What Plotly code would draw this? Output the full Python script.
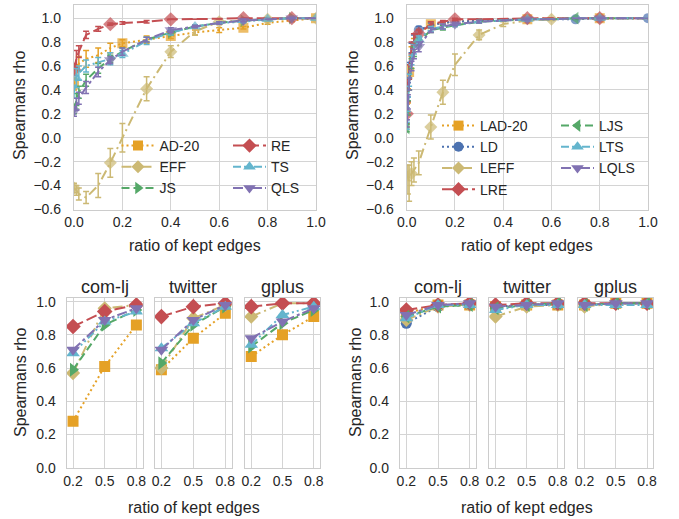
import plotly.graph_objects as go

W, H = 679, 519

# ---------------- data: top-left (absolute variants) ----------------
x_tl = [0.0, 0.01, 0.02, 0.05, 0.1, 0.15, 0.2, 0.3, 0.4, 0.5, 0.6, 0.7, 0.8, 0.9, 1.0]
ad20 = [0.45, 0.55, 0.62, 0.66, 0.69, 0.75, 0.79, 0.82, 0.85, 0.88, 0.90, 0.92, 0.96, 0.98, 1.0]
ad20_err = [0.05, 0.06, 0.06, 0.07, 0.06, 0.04, 0.03, 0.03, 0.02, 0.02, 0.02, 0.01, 0.01, 0.01, 0.0]
eff = [-0.42, -0.44, -0.47, -0.50, -0.40, -0.21, 0.0, 0.41, 0.72, 0.89, 0.97, 0.98, 0.99, 1.0, 1.0]
eff_err = [0.04, 0.04, 0.05, 0.05, 0.10, 0.12, 0.12, 0.10, 0.05, 0.03, 0.02, 0.01, 0.01, 0.0, 0.0]
js = [0.24, 0.32, 0.38, 0.48, 0.58, 0.66, 0.72, 0.82, 0.88, 0.93, 0.96, 0.98, 0.99, 1.0, 1.0]
js_err = [0.04, 0.05, 0.05, 0.05, 0.04, 0.03, 0.03, 0.02, 0.02, 0.01, 0.01, 0.01, 0.0, 0.0, 0.0]
re = [0.57, 0.66, 0.72, 0.86, 0.91, 0.95, 0.96, 0.97, 0.99, 0.99, 0.995, 1.0, 1.0, 1.0, 1.0]
re_err = [0.05, 0.07, 0.05, 0.03, 0.02, 0.01, 0.01, 0.01, 0.0, 0.0, 0.0, 0.0, 0.0, 0.0, 0.0]
ts = [0.38, 0.50, 0.54, 0.60, 0.63, 0.66, 0.70, 0.81, 0.88, 0.93, 0.96, 0.97, 0.99, 1.0, 1.0]
ts_err = [0.05, 0.08, 0.06, 0.05, 0.04, 0.05, 0.03, 0.03, 0.02, 0.01, 0.01, 0.01, 0.0, 0.0, 0.0]
qls = [0.22, 0.28, 0.33, 0.42, 0.55, 0.65, 0.72, 0.82, 0.90, 0.93, 0.96, 0.98, 0.99, 1.0, 1.0]
qls_err = [0.04, 0.05, 0.05, 0.05, 0.04, 0.03, 0.03, 0.02, 0.02, 0.01, 0.01, 0.01, 0.0, 0.0, 0.0]

# ---------------- data: top-right (local variants) ----------------
x_tr = [0.0, 0.005, 0.01, 0.02, 0.03, 0.05, 0.1, 0.15, 0.2, 0.3, 0.4, 0.5, 0.6, 0.7, 0.8, 0.9, 1.0]
lad20 = [0.15, 0.35, 0.55, 0.72, 0.80, 0.88, 0.95, 0.96, 0.97, 0.98, 0.99, 0.99, 1.0, 1.0, 1.0, 1.0, 1.0]
lad20_err = [0.06, 0.06, 0.05, 0.04, 0.03, 0.03, 0.02, 0.01, 0.01, 0.01, 0.0, 0.0, 0.0, 0.0, 0.0, 0.0, 0.0]
ld = [0.20, 0.40, 0.58, 0.75, 0.83, 0.90, 0.94, 0.96, 0.97, 0.98, 0.99, 0.99, 0.99, 0.99, 1.0, 1.0, 1.0]
ld_err = [0.05, 0.06, 0.05, 0.04, 0.03, 0.03, 0.02, 0.01, 0.01, 0.01, 0.0, 0.0, 0.0, 0.0, 0.0, 0.0, 0.0]
leff = [-0.28, -0.35, -0.38, -0.30, -0.27, -0.21, 0.09, 0.38, 0.61, 0.86, 0.95, 0.98, 0.99, 1.0, 1.0, 1.0, 1.0]
leff_err = [0.05, 0.12, 0.15, 0.10, 0.10, 0.10, 0.10, 0.10, 0.09, 0.04, 0.02, 0.01, 0.01, 0.0, 0.0, 0.0, 0.0]
lre = [0.20, 0.40, 0.55, 0.75, 0.83, 0.87, 0.95, 0.97, 0.99, 0.99, 0.995, 1.0, 1.0, 1.0, 1.0, 1.0, 1.0]
lre_err = [0.08, 0.10, 0.06, 0.05, 0.04, 0.03, 0.02, 0.01, 0.01, 0.0, 0.0, 0.0, 0.0, 0.0, 0.0, 0.0, 0.0]
ljs = [0.08, 0.25, 0.45, 0.62, 0.72, 0.80, 0.90, 0.92, 0.94, 0.97, 0.98, 0.99, 0.99, 1.0, 1.0, 1.0, 1.0]
ljs_err = [0.03, 0.06, 0.05, 0.04, 0.04, 0.03, 0.02, 0.02, 0.01, 0.01, 0.0, 0.0, 0.0, 0.0, 0.0, 0.0, 0.0]
lts = [0.10, 0.28, 0.48, 0.65, 0.74, 0.82, 0.91, 0.93, 0.94, 0.97, 0.98, 0.99, 0.99, 1.0, 1.0, 1.0, 1.0]
lts_err = [0.03, 0.06, 0.05, 0.04, 0.04, 0.03, 0.02, 0.02, 0.01, 0.01, 0.0, 0.0, 0.0, 0.0, 0.0, 0.0, 0.0]
lqls = [0.12, 0.30, 0.45, 0.60, 0.70, 0.76, 0.90, 0.93, 0.95, 0.97, 0.98, 0.99, 0.99, 1.0, 1.0, 1.0, 1.0]
lqls_err = [0.03, 0.06, 0.05, 0.04, 0.04, 0.04, 0.02, 0.02, 0.01, 0.01, 0.0, 0.0, 0.0, 0.0, 0.0, 0.0, 0.0]

# ---------------- data: bottom panels ----------------
datasets = ["com-lj", "twitter", "gplus"]
x_bot = [0.2, 0.5, 0.8]
bot_left = {
    "AD-20": [[0.28, 0.61, 0.86], [0.59, 0.78, 0.93], [0.67, 0.80, 0.91]],
    "EFF":   [[0.57, 0.96, 0.98], [0.60, 0.90, 0.98], [0.91, 0.99, 0.99]],
    "JS":    [[0.59, 0.86, 0.95], [0.63, 0.86, 0.97], [0.73, 0.87, 0.95]],
    "RE":    [[0.85, 0.94, 0.98], [0.91, 0.97, 0.99], [0.97, 0.99, 0.99]],
    "TS":    [[0.69, 0.88, 0.94], [0.72, 0.87, 0.97], [0.74, 0.92, 0.97]],
    "QLS":   [[0.71, 0.89, 0.96], [0.71, 0.89, 0.98], [0.78, 0.88, 0.96]],
}
bot_right = {
    "LAD-20": [[0.93, 0.98, 0.98], [0.97, 0.98, 0.98], [0.98, 0.99, 0.99]],
    "LD":     [[0.87, 0.97, 0.98], [0.97, 0.98, 0.98], [0.98, 0.99, 0.99]],
    "LEFF":   [[0.89, 0.97, 0.98], [0.91, 0.97, 0.98], [0.97, 0.99, 0.99]],
    "LRE":    [[0.95, 0.98, 0.99], [0.98, 0.99, 0.99], [0.99, 0.99, 0.99]],
    "LJS":    [[0.91, 0.97, 0.98], [0.96, 0.98, 0.99], [0.98, 0.99, 0.99]],
    "LTS":    [[0.90, 0.98, 0.98], [0.95, 0.98, 0.98], [0.98, 0.98, 0.98]],
    "LQLS":   [[0.92, 0.98, 0.99], [0.97, 0.98, 0.99], [0.98, 0.99, 0.99]],
}

# ---------------- styles ----------------
ORANGE, KHAKI, GREEN, RED, CYAN, PURPLE, BLUE = (
    "#E5A126", "#CCB974", "#55A868", "#C44E52", "#64B5CD", "#8172B2", "#4C72B0")
DOT = "2px,3px"
DASHDOT = "10px,4px,2px,4px"
DASH = "8px,4px"
LONG = "11px,4px"
DASHDOTDOT = "8px,3px,2px,3px,2px,3px"
QDASH = "10px,3px,3px,3px"

style = {
    "AD-20": (ORANGE, "square", 10, DOT),
    "EFF": (KHAKI, "diamond", 10, DASHDOT),
    "JS": (GREEN, "triangle-right", 11, DASH),
    "RE": (RED, "diamond", 11, LONG),
    "TS": (CYAN, "triangle-up", 11, DASHDOTDOT),
    "QLS": (PURPLE, "triangle-down", 11, QDASH),
    "LAD-20": (ORANGE, "square", 10, DOT),
    "LD": (BLUE, "circle", 10, DOT),
    "LEFF": (KHAKI, "diamond", 10, DASHDOT),
    "LRE": (RED, "diamond", 11, LONG),
    "LJS": (GREEN, "triangle-left", 11, DASH),
    "LTS": (CYAN, "triangle-up", 11, DASHDOTDOT),
    "LQLS": (PURPLE, "triangle-down", 11, QDASH),
}

FONT = "Liberation Sans, Arial, sans-serif"
TXT = "#262626"
GRID = "#d4d4d4"

fig = go.Figure()

def add_series(name, x, y, err, shown, xa, ya, legend):
    c, sym, sz, dash = style[name]
    sizes = [sz if i in shown else 0 for i in range(len(x))]
    fig.add_trace(go.Scatter(
        x=x, y=y, mode="lines+markers", xaxis=xa, yaxis=ya, showlegend=False,
        line=dict(color=c, width=2, dash=dash),
        marker=dict(symbol=sym, size=sizes, color=c, line=dict(width=0)),
        error_y=dict(type="data", array=err, visible=True, color=c, thickness=1.5, width=3),
        name=name, legendgroup=name))
    fig.add_trace(go.Scatter(
        x=[None], y=[None], mode="lines+markers", xaxis=xa, yaxis=ya, name=name,
        legend=legend, legendgroup=name, showlegend=True,
        line=dict(color=c, width=2, dash=dash),
        marker=dict(symbol=sym, size=sz, color=c, line=dict(width=0))))

# top-left
add_series("AD-20", x_tl, ad20, ad20_err, {0, 6, 8, 11, 14}, "x", "y", "legend")
add_series("EFF", x_tl, eff, eff_err, {0, 5, 7, 8, 10, 12, 14}, "x", "y", "legend")
add_series("JS", x_tl, js, js_err, {0, 5, 8, 11, 13}, "x", "y", "legend")
add_series("RE", x_tl, re, re_err, {0, 5, 8, 11, 13}, "x", "y", "legend2")
add_series("TS", x_tl, ts, ts_err, {1, 6, 9, 12, 14}, "x", "y", "legend2")
add_series("QLS", x_tl, qls, qls_err, {0, 5, 8, 11, 13}, "x", "y", "legend2")

# top-right
add_series("LAD-20", x_tr, lad20, lad20_err, {2, 6, 11, 14}, "x2", "y2", "legend3")
add_series("LD", x_tr, ld, ld_err, {5, 13, 16}, "x2", "y2", "legend3")
add_series("LEFF", x_tr, leff, leff_err, {3, 6, 7, 9, 12}, "x2", "y2", "legend3")
add_series("LRE", x_tr, lre, lre_err, {0, 5, 8, 11, 14}, "x2", "y2", "legend3")
add_series("LJS", x_tr, ljs, ljs_err, {0, 5, 13}, "x2", "y2", "legend4")
add_series("LTS", x_tr, lts, lts_err, {5, 11, 14}, "x2", "y2", "legend4")
add_series("LQLS", x_tr, lqls, lqls_err, {5, 8, 11, 14}, "x2", "y2", "legend4")

# bottom small multiples
def add_bottom(table, first_axis):
    for k, ds in enumerate(datasets):
        ax = first_axis + k
        for name, vals in table.items():
            c, sym, sz, dash = style[name]
            fig.add_trace(go.Scatter(
                x=x_bot, y=vals[k], mode="lines+markers", showlegend=False,
                xaxis=f"x{ax}", yaxis=f"y{ax}", name=name,
                line=dict(color=c, width=2, dash=dash),
                marker=dict(symbol=sym, size=sz + 1, color=c, line=dict(width=0))))

add_bottom(bot_left, 3)
add_bottom(bot_right, 6)

# ---------------- axes ----------------
def px_x(a, b):
    return [a / W, b / W]

def px_y(top, bottom):
    return [1 - bottom / H, 1 - top / H]

axis_common = dict(showline=True, mirror=True, linecolor="#cccccc", linewidth=1.3,
                   showgrid=True, gridcolor=GRID, gridwidth=1, zeroline=False,
                   ticks="", tickfont=dict(family=FONT, size=14, color=TXT),
                   automargin=False)

top_y = dict(range=[-0.6, 1.11], tickvals=[-0.6, -0.4, -0.2, 0.0, 0.2, 0.4, 0.6, 0.8, 1.0],
             tickformat=".1f", domain=px_y(5, 209.5), ticklabelstandoff=9)
top_x = dict(range=[0, 1.0], tickvals=[0, 0.2, 0.4, 0.6, 0.8, 1.0], tickformat=".1f",
             ticklabelstandoff=0)

layout_axes = {}
layout_axes["xaxis"] = dict(**axis_common, **top_x, domain=px_x(74, 316), anchor="y")
layout_axes["yaxis"] = dict(**axis_common, **top_y, anchor="x")
layout_axes["xaxis2"] = dict(**axis_common, **top_x, domain=px_x(406.7, 648), anchor="y2")
layout_axes["yaxis2"] = dict(**axis_common, **top_y, anchor="x2")

bot_x_dom = [(66.7, 142.7), (155, 231.7), (245, 320), (400, 476), (489.3, 564), (578.3, 653.3)]
for i, (a, b) in enumerate(bot_x_dom):
    ax = i + 3
    layout_axes[f"xaxis{ax}"] = dict(**axis_common, range=[0.14, 0.86], tickvals=[0.2, 0.5, 0.8],
                                     ticktext=["0.2", "0.5", "0.8"], domain=px_x(a, b),
                                     anchor=f"y{ax}", ticklabelstandoff=0)
    layout_axes[f"yaxis{ax}"] = dict(**axis_common, range=[0, 1.022],
                                     tickvals=[0, 0.2, 0.4, 0.6, 0.8, 1.0], tickformat=".1f",
                                     domain=px_y(298, 467.7), anchor=f"x{ax}",
                                     showticklabels=(i % 3 == 0), ticklabelstandoff=7)

# ---------------- annotations (titles) ----------------
ann = []
def text(x, y, s, size, angle=0):
    ann.append(dict(x=x / W, y=1 - y / H, xref="paper", yref="paper", text=s, showarrow=False,
                    textangle=angle, xanchor="center", yanchor="middle",
                    font=dict(family=FONT, size=size, color=TXT)))

text(20, 106, "Spearmans rho", 16, -90)
text(353, 106, "Spearmans rho", 16, -90)
text(20, 383, "Spearmans rho", 16, -90)
text(355, 383, "Spearmans rho", 16, -90)
text(195, 245, "ratio of kept edges", 16)
text(527, 245, "ratio of kept edges", 16)
text(194, 507, "ratio of kept edges", 16)
text(527, 507, "ratio of kept edges", 16)
for (a, b), ds in zip(bot_x_dom, datasets * 2):
    text((a + b) / 2, 287, ds, 18)

legend_common = dict(bgcolor="rgba(0,0,0,0)", borderwidth=0, itemwidth=33,
                     font=dict(family=FONT, size=14, color=TXT), xanchor="left",
                     yanchor="top", tracegroupgap=0, itemclick=False)

def leg(xpx, ypx):
    return dict(**legend_common, x=(xpx) / W, y=1 - ypx / H)

fig.update_layout(
    width=W, height=H, margin=dict(l=0, r=0, t=0, b=0, autoexpand=False),
    paper_bgcolor="white", plot_bgcolor="white",
    showlegend=True,
    legend=leg(116.5, 130),
    legend2=leg(228, 130),
    legend3=leg(437, 110),
    legend4=leg(556, 110),
    annotations=ann,
    **layout_axes,
)

fig.write_html("out.html", config={"displayModeBar": False},
               post_script="document.body.style.margin='0px';")
